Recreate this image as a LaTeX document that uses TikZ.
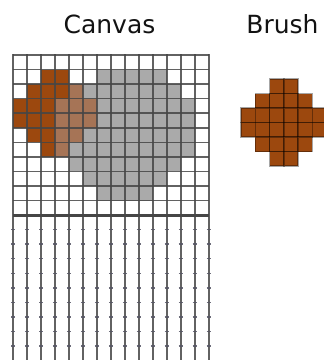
\documentclass[tikz,border=0pt]{standalone}
\usepackage{fontspec}
\setmainfont{DejaVu Sans}
\definecolor{brushbrown}{RGB}{156,72,14}
\definecolor{overlaptan}{RGB}{166,116,86}
\definecolor{paintgray}{RGB}{170,170,170}
\definecolor{gridgray}{RGB}{70,70,70}
\definecolor{tickgray}{RGB}{85,85,100}
\begin{document}
\begin{tikzpicture}[x=1pt,y=-1pt,
  title/.style={font=\fontsize{25}{30}\selectfont, text=black!93, anchor=base, inner sep=0pt},
  gridline/.style={draw=gridgray, draw opacity=0.85, line width=1.6pt},
  sepline/.style={draw=gridgray, line width=3pt},
  tickmark/.style={draw=tickgray, draw opacity=0.85, line width=1.5pt},
  brushcell/.style={fill=brushbrown, draw=black, draw opacity=0.35, line width=1.4pt}]
\useasboundingbox (0,0) rectangle (324,360);
\def\cw{13.96}\def\ch{14.55}\def\gx{13.3}\def\gy{55}
% titles
\node[title] (canvastitle) at (109.5,33) {Canvas};
\node[title] (brushtitle) at (282.5,33) {Brush};
% gray painted region: row/first/last
\foreach \r/\a/\b in {1/6/10,2/4/11,3/3/12,4/3/12,5/3/12,6/3/12,7/4/11,8/5/10,9/6/9}{
  \fill[paintgray] ({\gx+\a*\cw},{\gy+\r*\ch}) rectangle ({\gx+(\b+1)*\cw},{\gy+(\r+1)*\ch});
}
% brown brush stamp on canvas
\foreach \r/\a/\b in {1/2/3,2/1/3,3/0/2,4/0/2,5/1/2,6/2/2}{
  \fill[brushbrown] ({\gx+\a*\cw},{\gy+\r*\ch}) rectangle ({\gx+(\b+1)*\cw},{\gy+(\r+1)*\ch});
}
% overlap of brush and paint
\foreach \r/\a/\b in {2/4/4,3/3/5,4/3/5,5/3/4,6/3/3}{
  \fill[overlaptan] ({\gx+\a*\cw},{\gy+\r*\ch}) rectangle ({\gx+(\b+1)*\cw},{\gy+(\r+1)*\ch});
}
% vertical grid lines
\foreach \c in {0,...,14}{
  \draw[gridline] ({\gx+\c*\cw},{\gy-1}) -- ({\gx+\c*\cw},360);
}
% horizontal grid lines (upper part)
\foreach \r in {0,...,10}{
  \draw[gridline] (\gx,{\gy+\r*\ch}) -- ({\gx+14*\cw},{\gy+\r*\ch});
}
\draw[sepline] (\gx,{\gy+11*\ch}) -- ({\gx+14*\cw},{\gy+11*\ch});
% tick marks (lower part)
\foreach \r in {12,...,20}{
  \foreach \c in {0,...,14}{
    \draw[tickmark] ({\gx+\c*\cw-2.2},{\gy+\r*\ch}) -- ({\gx+\c*\cw+2.2},{\gy+\r*\ch});
  }
}
% brush
\def\bx{241}\def\by{79}\def\bw{14.3}\def\bh{14.5}
\foreach \r/\a/\b in {0/2/3,1/1/4,2/0/5,3/0/5,4/1/4,5/2/3}{
  \foreach \c in {\a,...,\b}{
    \path[brushcell] ({\bx+\c*\bw},{\by+\r*\bh}) rectangle ++(\bw,\bh);
  }
}
\end{tikzpicture}
\end{document}
